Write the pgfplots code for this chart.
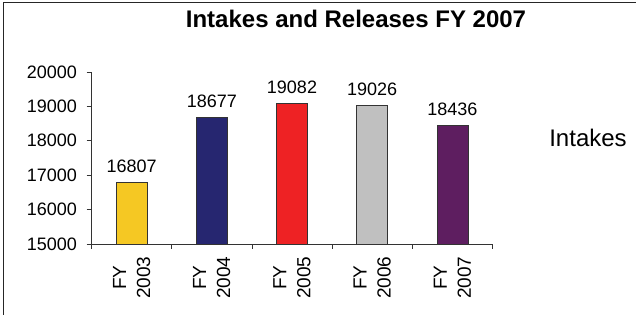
\documentclass[border=0pt]{standalone}
\usepackage{pgfplots}
\pgfplotsset{compat=1.18}
\usepackage{fontspec}
\setmainfont{Liberation Sans}
\definecolor{cyellow}{RGB}{245,200,35}
\definecolor{cnavy}{RGB}{38,38,112}
\definecolor{cred}{RGB}{238,34,36}
\definecolor{cgray}{RGB}{192,192,192}
\definecolor{cpurple}{RGB}{94,30,96}
\begin{document}
\begin{tikzpicture}[x=1pt,y=1pt]
\useasboundingbox (0,0) rectangle (636,315);
\draw[line width=1.6pt, black!85] (3.5,0) -- (3.5,312.5) -- (636,312.5);
\node[anchor=base, font=\fontsize{24}{26}\selectfont\bfseries] at (356,287) {Intakes and Releases FY 2007};
\node[anchor=base, font=\fontsize{24}{26}\selectfont] at (588,168) {Intakes};
\begin{axis}[
  at={(91.5pt,71pt)}, anchor=south west,
  scale only axis, width=401pt, height=172pt,
  ybar, bar width=31pt, bar shift=0pt,
  xmin=-0.5, xmax=4.5, ymin=15000, ymax=20000,
  axis x line*=bottom, axis y line*=left,
  axis line style={black!80, line width=0.8pt},
  ytick={15000,16000,...,20000},
  scaled y ticks=false,
  /pgf/number format/1000 sep={},
  /pgf/number format/fixed,
  /pgf/number format/assume math mode=true,
  y tick label style={font=\fontsize{18}{20}\selectfont, xshift=-6pt},
  tick align=outside, major tick length=5pt,
  tick style={black!80, line width=0.8pt},
  xtick={-0.5,0.5,1.5,2.5,3.5,4.5},
  xticklabels={},
  extra x ticks={0,1,2,3,4},
  extra x tick labels={{FY\\2003},{FY\\2004},{FY\\2005},{FY\\2006},{FY\\2007}},
  extra x tick style={major tick length=0pt, tick style={draw=none}},
  x tick label style={rotate=90, anchor=east, align=center, font=\fontsize{19}{24}\selectfont, xshift=-9pt},
  nodes near coords,
  nodes near coords style={font=\fontsize{18}{20}\selectfont, yshift=6pt},
  clip=false,
]
\addplot[fill=cyellow, draw=black!80, line width=0.6pt] coordinates {(0,16807)};
\addplot[fill=cnavy, draw=black!80, line width=0.6pt] coordinates {(1,18677)};
\addplot[fill=cred, draw=black!80, line width=0.6pt] coordinates {(2,19082)};
\addplot[fill=cgray, draw=black!80, line width=0.6pt] coordinates {(3,19026)};
\addplot[fill=cpurple, draw=black!80, line width=0.6pt] coordinates {(4,18436)};
\end{axis}
\end{tikzpicture}
\end{document}
